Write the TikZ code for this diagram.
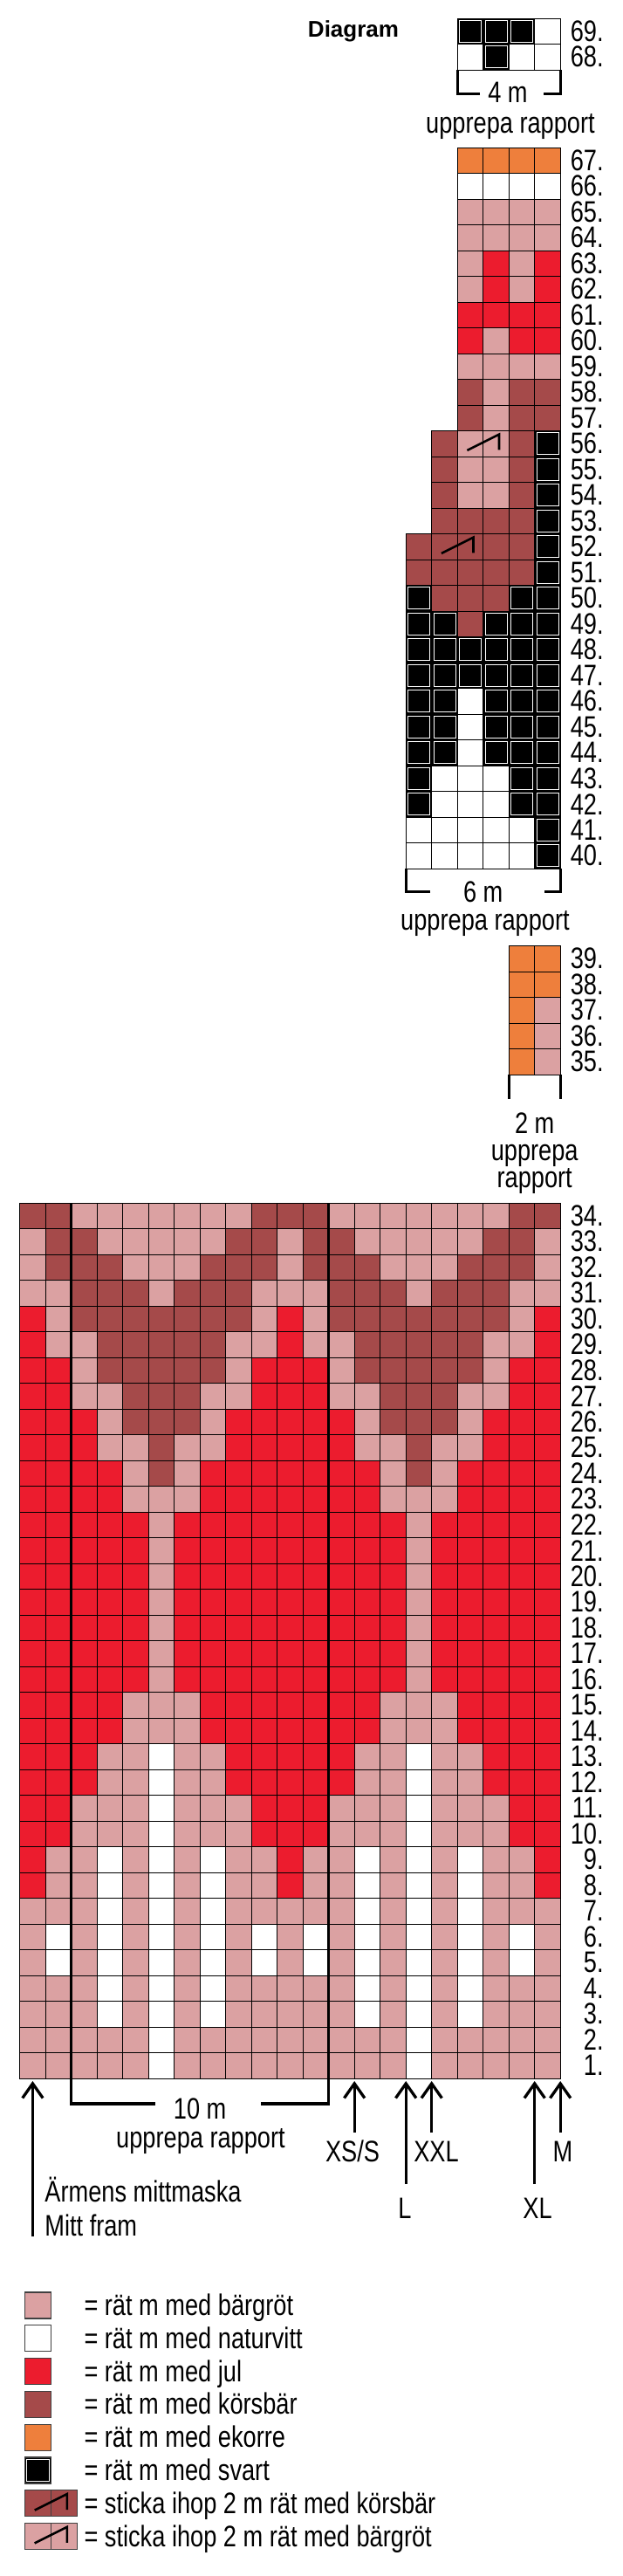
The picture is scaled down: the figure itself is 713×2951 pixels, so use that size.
\documentclass[tikz,border=0pt]{standalone}
\usepackage{fontspec}
\setmainfont{Liberation Sans}[FakeStretch=0.8]
\newfontfamily\titlefont{Liberation Sans}
\usetikzlibrary{arrows.meta}

\definecolor{bargrot}{HTML}{DBA1A2}
\definecolor{naturvitt}{HTML}{FFFFFF}
\definecolor{julrod}{HTML}{EC1C2E}
\definecolor{korsbar}{HTML}{A54A4A}
\definecolor{ekorre}{HTML}{EE7F3C}
\definecolor{legframe}{HTML}{404040}

\newcommand{\chartfont}{\fontsize{17pt}{20pt}\selectfont}

\tikzset{
  cell/.style={draw=black, line width=0.5pt},
  legbox/.style={draw=legframe, line width=0.6pt},
  bar/.style={fill=bargrot},
  nat/.style={fill=naturvitt},
  jul/.style={fill=julrod},
  kor/.style={fill=korsbar},
  eko/.style={fill=ekorre},
  sva/.style={fill=black, path picture={
      \draw[white, line width=0.4pt]
        ([shift={(1.1pt,-1.1pt)}]path picture bounding box.north west) rectangle
        ([shift={(-1.1pt,1.1pt)}]path picture bounding box.south east);}},
  rowno/.style={anchor=east, inner sep=0pt, font=\chartfont},
  txt/.style={anchor=base, inner sep=0pt, font=\chartfont},
  legtxt/.style={anchor=base west, inner sep=0pt, font=\chartfont},
  bracket/.style={line width=1.6pt},
  sizearrow/.style={line width=1.65pt, -{Straight Barb[length=8.3pt, width=11.7pt]}},
  ktog/.pic={\draw[line width=1.3pt] (0.38,0.76) -- (1.62,0.14) -- (1.62,0.74);}
}

\begin{document}
\begin{tikzpicture}[x=0.5pt, y=-0.5pt]
    \useasboundingbox (0,0) rectangle (713,2951);
    \fill[white] (0,0) rectangle (713,2951);

    % Title
    \node[anchor=base, inner sep=0pt, font=\titlefont\bfseries\fontsize{13pt}{15pt}\selectfont] (title) at (405,42.7) {Diagram};

    % Rows 68-69 (4 m)
    \begin{scope}[shift={(524.2,21)}, x=14.75pt, y=-14.75pt]
        \foreach \r/\row [count=\k] in {69/{sva,sva,sva,nat}, 68/{nat,sva,nat,nat}} {
            \foreach \fc [count=\n] in \row
                \path[cell,\fc] (\n-1,\k-1) rectangle ++(1,1);
            \node[rowno] (r\r) at (5.69,\k-0.5) {\r.};
        }
    \end{scope}
    \draw[bracket] (550,107.3) -- (524.2,107.3) -- (524.2,80);
    \draw[bracket] (623,107.3) -- (642.2,107.3) -- (642.2,80);
    \node[txt] (m4) at (582,117) {4 m};
    \node[txt] (rep4) at (585,152) {upprepa rapport};

    % Rows 40-67 (6 m)
    \begin{scope}[shift={(465.2,169)}, x=14.75pt, y=-14.75pt]
        \foreach \r/\s/\row [count=\k] in {
            67/3/{eko,eko,eko,eko},
            66/3/{nat,nat,nat,nat},
            65/3/{bar,bar,bar,bar},
            64/3/{bar,bar,bar,bar},
            63/3/{bar,jul,bar,jul},
            62/3/{bar,jul,bar,jul},
            61/3/{jul,jul,jul,jul},
            60/3/{jul,bar,jul,jul},
            59/3/{bar,bar,bar,bar},
            58/3/{kor,bar,kor,kor},
            57/3/{kor,bar,kor,kor},
            56/2/{kor,bar,bar,kor,sva},
            55/2/{kor,bar,bar,kor,sva},
            54/2/{kor,bar,bar,kor,sva},
            53/2/{kor,kor,kor,kor,sva},
            52/1/{kor,kor,kor,kor,kor,sva},
            51/1/{kor,kor,kor,kor,kor,sva},
            50/1/{sva,kor,kor,kor,sva,sva},
            49/1/{sva,sva,kor,sva,sva,sva},
            48/1/{sva,sva,sva,sva,sva,sva},
            47/1/{sva,sva,sva,sva,sva,sva},
            46/1/{sva,sva,nat,sva,sva,sva},
            45/1/{sva,sva,nat,sva,sva,sva},
            44/1/{sva,sva,nat,sva,sva,sva},
            43/1/{sva,nat,nat,nat,sva,sva},
            42/1/{sva,nat,nat,nat,sva,sva},
            41/1/{nat,nat,nat,nat,nat,sva},
            40/1/{nat,nat,nat,nat,nat,sva}} {
            \foreach \fc [count=\n from \s] in \row
                \path[cell,\fc] (\n-1,\k-1) rectangle ++(1,1);
            \node[rowno] (r\r) at (7.69,\k-0.5) {\r.};
        }
        % decreases
        \pic at (2,11) {ktog};
        \pic at (1,15) {ktog};
    \end{scope}
    \draw[bracket] (493,1021.7) -- (465.2,1021.7) -- (465.2,995);
    \draw[bracket] (624,1021.7) -- (642.2,1021.7) -- (642.2,995);
    \node[txt] (m6) at (553.7,1033) {6 m};
    \node[txt] (rep6) at (556,1065) {upprepa rapport};

    % Rows 35-39 (2 m)
    \begin{scope}[shift={(583.2,1083.5)}, x=14.75pt, y=-14.75pt]
        \foreach \r/\row [count=\k] in {39/{eko,eko}, 38/{eko,eko}, 37/{eko,bar}, 36/{eko,bar}, 35/{eko,bar}} {
            \foreach \fc [count=\n] in \row
                \path[cell,\fc] (\n-1,\k-1) rectangle ++(1,1);
            \node[rowno] (r\r) at (3.69,\k-0.5) {\r.};
        }
    \end{scope}
    \draw[bracket] (583.2,1231) -- (583.2,1259.3);
    \draw[bracket] (642.2,1231) -- (642.2,1259.3);
    \node[txt] (m2) at (612.7,1298) {2 m};
    \node[txt] (rep2a) at (612.7,1329) {upprepa};
    \node[txt] (rep2b) at (612.7,1360) {rapport};

    % Rows 1-34 (10 m repeat = columns 3-12)
    \begin{scope}[shift={(22.7,1378)}, x=14.75pt, y=-14.75pt]
        \foreach \r/\rep [count=\k] in {
            34/{bar,bar,bar,bar,bar,bar,bar,kor,kor,kor},
            33/{kor,bar,bar,bar,bar,bar,kor,kor,bar,kor},
            32/{kor,kor,bar,bar,bar,kor,kor,kor,bar,kor},
            31/{kor,kor,kor,bar,kor,kor,kor,bar,bar,bar},
            30/{kor,kor,kor,kor,kor,kor,kor,bar,jul,bar},
            29/{bar,kor,kor,kor,kor,kor,bar,bar,jul,bar},
            28/{bar,kor,kor,kor,kor,kor,bar,jul,jul,jul},
            27/{bar,bar,kor,kor,kor,bar,bar,jul,jul,jul},
            26/{jul,bar,kor,kor,kor,bar,jul,jul,jul,jul},
            25/{jul,bar,bar,kor,bar,bar,jul,jul,jul,jul},
            24/{jul,jul,bar,kor,bar,jul,jul,jul,jul,jul},
            23/{jul,jul,bar,bar,bar,jul,jul,jul,jul,jul},
            22/{jul,jul,jul,bar,jul,jul,jul,jul,jul,jul},
            21/{jul,jul,jul,bar,jul,jul,jul,jul,jul,jul},
            20/{jul,jul,jul,bar,jul,jul,jul,jul,jul,jul},
            19/{jul,jul,jul,bar,jul,jul,jul,jul,jul,jul},
            18/{jul,jul,jul,bar,jul,jul,jul,jul,jul,jul},
            17/{jul,jul,jul,bar,jul,jul,jul,jul,jul,jul},
            16/{jul,jul,jul,bar,jul,jul,jul,jul,jul,jul},
            15/{jul,jul,bar,bar,bar,jul,jul,jul,jul,jul},
            14/{jul,jul,bar,bar,bar,jul,jul,jul,jul,jul},
            13/{jul,bar,bar,nat,bar,bar,jul,jul,jul,jul},
            12/{jul,bar,bar,nat,bar,bar,jul,jul,jul,jul},
            11/{bar,bar,bar,nat,bar,bar,bar,jul,jul,jul},
            10/{bar,bar,bar,nat,bar,bar,bar,jul,jul,jul},
            9/{bar,nat,bar,nat,bar,nat,bar,bar,jul,bar},
            8/{bar,nat,bar,nat,bar,nat,bar,bar,jul,bar},
            7/{bar,nat,bar,nat,bar,nat,bar,bar,bar,bar},
            6/{bar,nat,bar,nat,bar,nat,bar,nat,bar,nat},
            5/{bar,nat,bar,nat,bar,nat,bar,nat,bar,nat},
            4/{bar,nat,bar,nat,bar,nat,bar,bar,bar,bar},
            3/{bar,nat,bar,nat,bar,nat,bar,bar,bar,bar},
            2/{bar,bar,bar,nat,bar,bar,bar,bar,bar,bar},
            1/{bar,bar,bar,nat,bar,bar,bar,bar,bar,bar}} {
            \foreach \fc [count=\n] in \rep {
                \path[cell,\fc] (\n+1,\k-1) rectangle ++(1,1);
                \ifnum\n<10 \path[cell,\fc] (\n+11,\k-1) rectangle ++(1,1);\fi
                \ifnum\n>8 \path[cell,\fc] (\n-9,\k-1) rectangle ++(1,1);\fi
            }
            \node[rowno] (r\r) at (22.69,\k-0.5) {\r.};
        }
    \end{scope}
    \draw[bracket] (81.7,1378) -- (81.7,2410) -- (178,2410);
    \draw[bracket] (376.7,1378) -- (376.7,2410) -- (299,2410);
    \node[txt] (m10) at (229.2,2427) {10 m};
    \node[txt] (rep10) at (230,2460) {upprepa rapport};

    % Size arrows
    \foreach \name/\x/\y in {mitt/37.45/2562, xss/406.2/2443, l/465.2/2502, xxl/494.7/2443, xl/612.7/2502, m/642.2/2443} {
        \coordinate (\name-foot) at (\x,\y);
        \coordinate (\name-tip) at (\x,2384);
        \draw[sizearrow] (\name-foot) -- (\name-tip);
    }
    \node[txt] (xssl) at (404,2476) {XS/S};
    \node[txt] (xxll) at (500,2476) {XXL};
    \node[txt] (ml) at (645,2476) {M};
    \node[txt] (ll) at (464,2541) {L};
    \node[txt] (xll) at (616,2541) {XL};
    \node[legtxt] (mittmaska) at (51,2522) {Ärmens mittmaska};
    \node[legtxt] (mittfram) at (51,2561) {Mitt fram};

    % Legend
    \begin{scope}[shift={(28.3,2626)}, x=15pt, y=-15pt]
        \foreach \fc/\txt [count=\n] in {bar/rät m med bärgröt, nat/rät m med naturvitt, jul/rät m med jul,
                kor/rät m med körsbär, eko/rät m med ekorre, sva/rät m med svart} {
            \path[legbox,\fc] (0,{1.26*(\n-1)}) rectangle ++(1,1);
            \node[legtxt] (leg\n) at (2.26,{1.26*(\n-1)+0.88}) {= \txt};
        }
        \path[legbox,kor] (0,7.56) rectangle ++(1,1);
        \path[legbox,kor] (1,7.56) rectangle ++(1,1);
        \pic at (0,7.56) {ktog};
        \node[legtxt] (leg7) at (2.26,8.44) {= sticka ihop 2 m rät med körsbär};
        \path[legbox,bar] (0,8.82) rectangle ++(1,1);
        \path[legbox,bar] (1,8.82) rectangle ++(1,1);
        \pic at (0,8.82) {ktog};
        \node[legtxt] (leg8) at (2.26,9.70) {= sticka ihop 2 m rät med bärgröt};
    \end{scope}
\end{tikzpicture}
\end{document}
